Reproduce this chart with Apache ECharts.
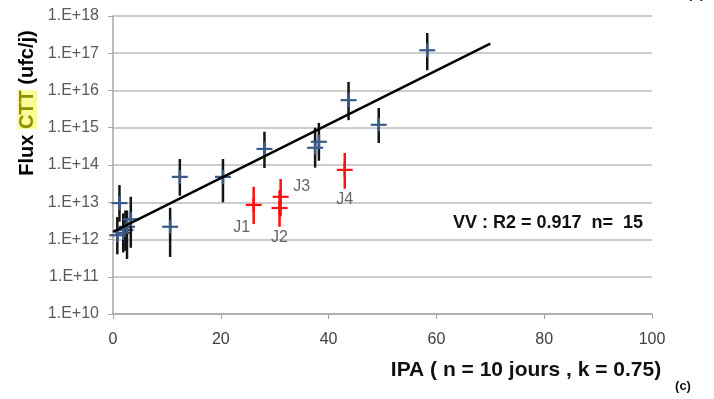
<!DOCTYPE html>
<html>
<head>
<meta charset="utf-8">
<script src="https://cdn.jsdelivr.net/npm/echarts@6/dist/echarts.min.js"></script>
<style>
  html, body { margin: 0; padding: 0; background: #fff; }
  #chart { width: 714px; height: 399px; }
</style>
</head>
<body>
<div id="chart"></div>
<script>
// VV stations (blue): IPA, flux, error bar low/high
const blueIPA = [58.3, 49.3, 43.7, 38.2, 37.5, 28.1, 20.4, 12.4, 10.6, 1.2, 0.8, 1.9, 2.3, 2.6, 3.3];
const blueFlux = [1.2e17, 1.2e15, 5.5e15, 4.2e14, 2.9e14, 2.7e14, 4.8e13, 4.8e13, 2.2e12, 9.5e12, 1.3e12, 1.5e12, 1.8e12, 2.2e12, 3.5e12];
const blueLow = [3.5e16, 3.9e14, 1.6e15, 1.3e14, 8.5e13, 8.3e13, 1.0e13, 1.5e13, 3.4e11, 3.0e12, 4.0e11, 4.5e11, 5.0e11, 3.0e11, 6.0e11];
const blueHigh = [3.5e17, 3.4e15, 1.7e16, 1.35e15, 1.0e15, 7.8e14, 1.45e14, 1.45e14, 7.1e12, 2.9e13, 4.0e12, 5.0e12, 6.0e12, 6.0e12, 1.4e13];

// J points (red)
const redNames = ['J1', 'J3', 'J2', 'J4'];
const redIPA = [26.1, 31.1, 30.9, 43.0];
const redFlux = [8.5e12, 1.4e13, 7.0e12, 7.4e13];
const redLow = [2.6e12, 4.2e12, 2.2e12, 2.3e13];
const redHigh = [2.6e13, 4.2e13, 2.1e13, 2.1e14];

// regression line end points
const fitIPA = [0, 70];
const fitFlux = [1.6e12, 1.8e17];

const xTicks = [0, 20, 40, 60, 80, 100];

const font = 'Liberation Sans';
const labelOffsets = { J1: [-12, 23], J2: [0, 30], J3: [21, -10], J4: [0, 30] };

function rows(xs, ys, lo, hi, names) {
  return xs.map((x, i) => ({ value: [x, ys[i], lo[i], hi[i]], name: names ? names[i] : '' }));
}

function crossRenderer(barColor, crossColor) {
  return function (params, api) {
    const c = api.coord([api.value(0), api.value(1)]);
    const lo = api.coord([api.value(0), api.value(2)]);
    const hi = api.coord([api.value(0), api.value(3)]);
    return {
      type: 'group',
      children: [
        { type: 'line', shape: { x1: lo[0], y1: lo[1], x2: hi[0], y2: hi[1] },
          style: { stroke: barColor, lineWidth: 2.5 } },
        { type: 'line', shape: { x1: c[0] - 8, y1: c[1], x2: c[0] + 8, y2: c[1] },
          style: { stroke: crossColor, lineWidth: 2.2 } },
        { type: 'line', shape: { x1: c[0], y1: c[1] - 7, x2: c[0], y2: c[1] + 7 },
          style: { stroke: crossColor, lineWidth: 2.5 } }
      ]
    };
  };
}

const chart = echarts.init(document.getElementById('chart'));
chart.setOption({
  animation: false,
  grid: { left: 113, right: 62, top: 16, bottom: 85 },
  xAxis: {
    type: 'value', min: 0, max: 100, interval: 20,
    axisLine: { lineStyle: { color: '#a6a6a6', width: 1.5 } },
    axisTick: { show: true, length: 5, lineStyle: { color: '#a6a6a6' } },
    axisLabel: { color: '#404040', fontFamily: font, fontSize: 16, margin: 18,
      formatter: v => xTicks.includes(v) ? String(v) : '' },
    splitLine: { show: false }
  },
  yAxis: {
    type: 'log', logBase: 10, min: 1e10, max: 1e18, splitNumber: 8,
    axisLine: { show: true, lineStyle: { color: '#a6a6a6', width: 1.5 } },
    axisTick: { show: true, length: 5, lineStyle: { color: '#a6a6a6' } },
    axisLabel: { color: '#595959', fontFamily: font, fontSize: 16, margin: 14,
      formatter: v => '1.E+' + Math.round(Math.log10(v)) },
    splitLine: { lineStyle: { color: '#bcbcbc', width: 1.5 } }
  },
  series: [
    {
      type: 'custom', name: 'VV',
      renderItem: crossRenderer('#141414', '#3a5a88'),
      encode: { x: 0, y: 1 },
      data: rows(blueIPA, blueFlux, blueLow, blueHigh)
    },
    {
      type: 'custom', name: 'J',
      renderItem: crossRenderer('#ff1010', '#ff1010'),
      encode: { x: 0, y: 1 },
      data: rows(redIPA, redFlux, redLow, redHigh, redNames)
    },
    {
      type: 'scatter', name: 'labels', symbolSize: 0, silent: true,
      data: redNames.map((n, i) => ({
        name: n, value: [redIPA[i], redFlux[i]],
        label: { show: true, formatter: n, position: 'inside', offset: labelOffsets[n],
          color: '#404040', fontFamily: font, fontSize: 16 }
      }))
    },
    {
      type: 'line', name: 'fit', symbol: 'none', silent: true,
      lineStyle: { color: '#000', width: 2.5 },
      data: fitIPA.map((x, i) => [x, fitFlux[i]])
    }
  ],
  graphic: [
    {
      type: 'text', x: 27, y: 103, rotation: Math.PI / 2,
      style: {
        text: '{a|Flux }{b|CTT}{a| (ufc/j)}',
        textAlign: 'center', textVerticalAlign: 'middle',
        rich: {
          a: { fontFamily: font, fontWeight: 'bold', fontSize: 20, fill: '#000' },
          b: { fontFamily: font, fontWeight: 'bold', fontSize: 20, fill: '#8f8f00', backgroundColor: '#fbfb9a' }
        }
      }
    },
    {
      type: 'text', x: 526, y: 370,
      style: { text: 'IPA ( n = 10 jours , k = 0.75)', fontFamily: font, fontWeight: 'bold', fontSize: 21,
        fill: '#111', textAlign: 'center', textVerticalAlign: 'middle' }
    },
    {
      type: 'text', x: 683, y: 386,
      style: { text: '(c)', fontFamily: font, fontWeight: 'bold', fontSize: 13,
        fill: '#111', textAlign: 'center', textVerticalAlign: 'middle' }
    },
    {
      type: 'text', x: 696, y: -6,
      style: { text: '(b)', fontFamily: font, fontWeight: 'bold', fontSize: 13,
        fill: '#111', textAlign: 'center', textVerticalAlign: 'middle' }
    },
    {
      type: 'text', x: 643, y: 223,
      style: { text: 'VV : R2 = 0.917  n=  15', fontFamily: font, fontWeight: 'bold', fontSize: 18,
        fill: '#111', textAlign: 'right', textVerticalAlign: 'middle' }
    }
  ]
});
</script>
</body>
</html>
